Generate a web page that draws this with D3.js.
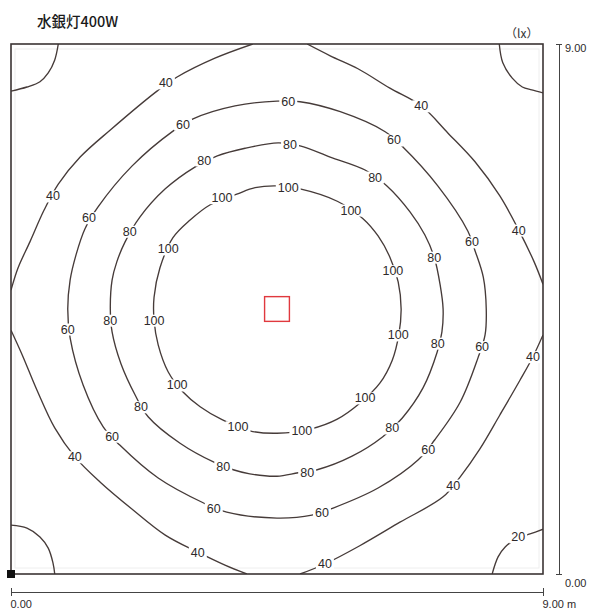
<!DOCTYPE html>
<html>
<head>
<meta charset="utf-8">
<script src="https://cdn.jsdelivr.net/npm/d3@7"></script>
<style>
  body { margin: 0; background: #fff; }
  svg { display: block; }
</style>
</head>
<body>
<svg id="chart" width="594" height="613"></svg>
<script>
// Illuminance isolines (lx) on a 9 m x 9 m floor, one mercury lamp at the centre.
const title = "水銀灯400W";
const unitLabel = "（lx）";
const roomX = [0, 9];           // m
const roomY = [0, 9];           // m
const axisTicks = [0, 9];
const axisUnit = " m";
const lampPos = [4.5, 4.5];      // m

// Closed isolines, [x, y] in metres
const ring100 = [[4.50,6.59],[4.89,6.54],[5.52,6.33],[5.96,6.03],[6.21,5.74],[6.41,5.38],[6.55,4.96],[6.60,4.50],[6.56,4.06],[6.45,3.63],[6.24,3.24],[5.90,2.90],[5.52,2.63],[5.06,2.46],[4.50,2.39],[4.04,2.43],[3.57,2.62],[3.20,2.84],[2.91,3.09],[2.66,3.43],[2.49,3.89],[2.42,4.31],[2.42,4.70],[2.52,5.20],[2.74,5.71],[3.03,6.01],[3.37,6.27],[3.82,6.45],[4.13,6.56]];
const ring80 = [[4.52,7.32],[4.89,7.27],[5.40,7.08],[5.99,6.86],[6.36,6.59],[6.75,6.15],[7.00,5.76],[7.16,5.38],[7.26,4.91],[7.31,4.50],[7.29,4.11],[7.21,3.77],[6.97,3.16],[6.62,2.65],[6.29,2.33],[5.77,2.00],[5.18,1.77],[4.86,1.72],[4.50,1.66],[4.04,1.70],[3.76,1.77],[3.45,1.89],[2.86,2.22],[2.32,2.67],[2.10,3.04],[1.86,3.57],[1.71,4.11],[1.68,4.50],[1.71,4.99],[1.79,5.30],[1.93,5.64],[2.18,6.06],[2.61,6.54],[3.11,6.91],[3.49,7.10],[3.96,7.23]];
const ring60 = [[4.50,8.03],[4.89,8.02],[5.57,7.85],[6.33,7.51],[6.63,7.25],[7.22,6.59],[7.73,5.82],[7.85,5.49],[7.99,5.04],[8.04,4.50],[8.02,4.06],[7.90,3.67],[7.60,2.92],[7.17,2.28],[6.89,1.94],[6.21,1.46],[5.45,1.12],[5.09,1.00],[4.50,0.95],[3.65,1.05],[3.25,1.21],[2.49,1.63],[1.84,2.19],[1.56,2.50],[1.22,3.21],[1.00,4.01],[0.96,4.50],[1.00,4.99],[1.10,5.42],[1.25,5.86],[1.47,6.23],[2.05,6.93],[2.74,7.52],[3.08,7.73],[3.79,7.95]];

// Isolines cut by the walls, each piece as an open [x, y] polyline in metres
const arcs40 = [
  [[4.09,9.00],[3.45,8.76],[2.81,8.44],[2.47,8.20],[1.68,7.54],[1.17,7.08],[0.80,6.62],[0.56,6.18],[0.32,5.64],[0.12,5.20],[0.00,4.82]],
  [[0.00,4.14],[0.19,3.72],[0.44,3.12],[0.74,2.48],[1.08,1.99],[1.51,1.56],[2.05,1.10],[2.61,0.66],[3.16,0.37],[3.62,0.15],[3.99,0.00]],
  [[4.89,0.00],[5.31,0.17],[5.90,0.48],[6.58,0.88],[7.31,1.31],[7.60,1.65],[7.93,2.12],[8.27,2.70],[8.61,3.29],[8.83,3.69],[9.00,4.06]],
  [[9.00,4.92],[8.85,5.30],[8.59,5.84],[8.27,6.42],[7.85,7.00],[7.39,7.49],[6.94,7.95],[6.41,8.25],[5.87,8.58],[5.40,8.80],[5.01,9.00]]
];
const arcs20 = [
  [[0.80,9.00],[0.74,8.73],[0.63,8.51],[0.49,8.36],[0.27,8.27],[0.00,8.20]],
  [[8.26,9.00],[8.32,8.68],[8.48,8.42],[8.65,8.27],[8.81,8.22],[9.00,8.17]],
  [[0.00,0.83],[0.27,0.78],[0.49,0.63],[0.63,0.44],[0.71,0.19],[0.74,0.00]],
  [[8.14,0.00],[8.24,0.29],[8.36,0.46],[8.58,0.61],[8.78,0.68],[9.00,0.76]]
];

// Where each level's value is written along its line
const labels100 = [[3.57,6.39],[4.69,6.57],[5.75,6.18],[6.46,5.15],[6.55,4.06],[5.99,2.99],[4.92,2.43],[3.84,2.50],[2.81,3.21],[2.42,4.31],[2.66,5.52]];
const labels80 = [[3.27,7.03],[4.72,7.30],[6.16,6.74],[7.16,5.38],[7.22,3.92],[6.45,2.48],[5.01,1.73],[3.59,1.82],[2.20,2.84],[1.68,4.31],[2.01,5.82]];
const labels60 = [[2.91,7.64],[4.69,8.03],[6.48,7.37],[7.80,5.64],[7.97,3.86],[7.06,2.11],[5.26,1.04],[3.43,1.12],[1.71,2.34],[0.96,4.16],[1.32,6.05]];
const labels40 = [[2.62,8.34],[0.71,6.42],[1.08,1.99],[3.16,0.37],[5.31,0.17],[7.48,1.51],[8.83,3.69],[8.59,5.84],[6.94,7.95]];
const labels20 = [[8.58,0.63]];

const isolines = [
  { level: 100, closed: true,  paths: [ring100], labels: labels100 },
  { level: 80,  closed: true,  paths: [ring80],  labels: labels80 },
  { level: 60,  closed: true,  paths: [ring60],  labels: labels60 },
  { level: 40,  closed: false, paths: arcs40,    labels: labels40 },
  { level: 20,  closed: false, paths: arcs20,    labels: labels20 }
];

const svg = d3.select("#chart");
const x = d3.scaleLinear().domain(roomX).range([11, 543]);
const y = d3.scaleLinear().domain(roomY).range([574, 44]);

const lineColor = "#463b39";
const textColor = "#2e2a2a";
const latin = "'Liberation Sans', Arial, sans-serif";
const cjk = "'Noto Sans CJK JP', 'Noto Sans', sans-serif";

// Title and unit
svg.append("text").attr("x", 37).attr("y", 27)
  .attr("font-family", cjk).attr("font-size", 14.5).attr("font-weight", 500)
  .attr("fill", "#1a1a1a").text(title);
svg.append("text").attr("x", 505).attr("y", 38)
  .attr("font-family", cjk).attr("font-size", 12)
  .attr("fill", "#333").text(unitLabel);

// Floor clip
svg.append("defs").append("clipPath").attr("id", "floor")
  .append("rect")
  .attr("x", x(roomX[0])).attr("y", y(roomY[1]))
  .attr("width", x(roomX[1]) - x(roomX[0]))
  .attr("height", y(roomY[0]) - y(roomY[1]));

// faint inner margin line
svg.append("rect")
  .attr("x", x(roomX[0]) + 4).attr("y", y(roomY[1]) + 5)
  .attr("width", x(roomX[1]) - x(roomX[0]) - 8)
  .attr("height", y(roomY[0]) - y(roomY[1]) - 11)
  .attr("fill", "none").attr("stroke", "#eeeeee").attr("stroke-width", 1);

const plot = svg.append("g").attr("clip-path", "url(#floor)");

const lineOpen = d3.line().x(d => x(d[0])).y(d => y(d[1])).curve(d3.curveCatmullRom.alpha(0.5));
const lineClosed = d3.line().x(d => x(d[0])).y(d => y(d[1])).curve(d3.curveCatmullRomClosed.alpha(0.5));

isolines.forEach(iso => {
  plot.selectAll(null).data(iso.paths).join("path")
    .attr("d", iso.closed ? lineClosed : lineOpen)
    .attr("fill", "none")
    .attr("stroke", lineColor)
    .attr("stroke-width", 1.35)
    .attr("stroke-linejoin", "round");
});

// Value labels with a white knock-out behind them
isolines.forEach(iso => {
  const g = plot.selectAll(null).data(iso.labels).join("g")
    .attr("transform", d => `translate(${x(d[0])},${y(d[1])})`);
  g.append("text")
    .attr("text-anchor", "middle").attr("dy", "0.36em")
    .attr("font-family", latin).attr("font-size", 12.5)
    .attr("fill", textColor)
    .text(iso.level);
  g.each(function () {
    const grp = d3.select(this);
    const bb = grp.select("text").node().getBBox();
    grp.insert("rect", "text")
      .attr("x", bb.x - 2).attr("y", bb.y + 1)
      .attr("width", bb.width + 4).attr("height", bb.height - 2)
      .attr("fill", "#fff");
  });
});

// Lamp
const lampHalf = 0.21;
svg.append("rect")
  .attr("x", x(lampPos[0] - lampHalf)).attr("y", y(lampPos[1] + lampHalf))
  .attr("width", x(lampPos[0] + lampHalf) - x(lampPos[0] - lampHalf))
  .attr("height", y(lampPos[1] - lampHalf) - y(lampPos[1] + lampHalf))
  .attr("fill", "none").attr("stroke", "#e0393e").attr("stroke-width", 1.4);

// Floor outline
svg.append("rect")
  .attr("x", x(roomX[0])).attr("y", y(roomY[1]))
  .attr("width", x(roomX[1]) - x(roomX[0]))
  .attr("height", y(roomY[0]) - y(roomY[1]))
  .attr("fill", "none").attr("stroke", "#3b3434").attr("stroke-width", 1.6);

// Origin marker
svg.append("rect")
  .attr("x", x(0) - 4).attr("y", y(0) - 4)
  .attr("width", 8).attr("height", 8).attr("fill", "#111");

const fmt = d3.format(".2f");

// Right dimension axis
const axR = svg.append("g").attr("transform", "translate(559,0)")
  .call(d3.axisRight(y).tickValues(axisTicks).tickFormat(fmt).tickSizeInner(3).tickSizeOuter(0));
axR.select(".domain").attr("stroke", "#444");
axR.selectAll(".tick line").attr("x1", -3).attr("stroke", "#444");
axR.selectAll(".tick text")
  .attr("x", 6).attr("y", d => d === axisTicks[1] ? 4 : 9).attr("dy", "0.35em")
  .attr("font-family", latin).attr("font-size", 11).attr("fill", textColor);

// Bottom dimension axis
const axB = svg.append("g").attr("transform", "translate(0,592)")
  .call(d3.axisBottom(x).tickValues(axisTicks)
    .tickFormat((d, i) => fmt(d) + (i === axisTicks.length - 1 ? axisUnit : ""))
    .tickSizeInner(4).tickSizeOuter(0));
axB.select(".domain").attr("stroke", "#444");
axB.selectAll(".tick line").attr("y1", -4).attr("stroke", "#444");
axB.selectAll(".tick text")
  .attr("text-anchor", "start").attr("x", -1).attr("y", 8).attr("dy", "0.71em")
  .attr("font-family", latin).attr("font-size", 11).attr("fill", textColor);
</script>
</body>
</html>
